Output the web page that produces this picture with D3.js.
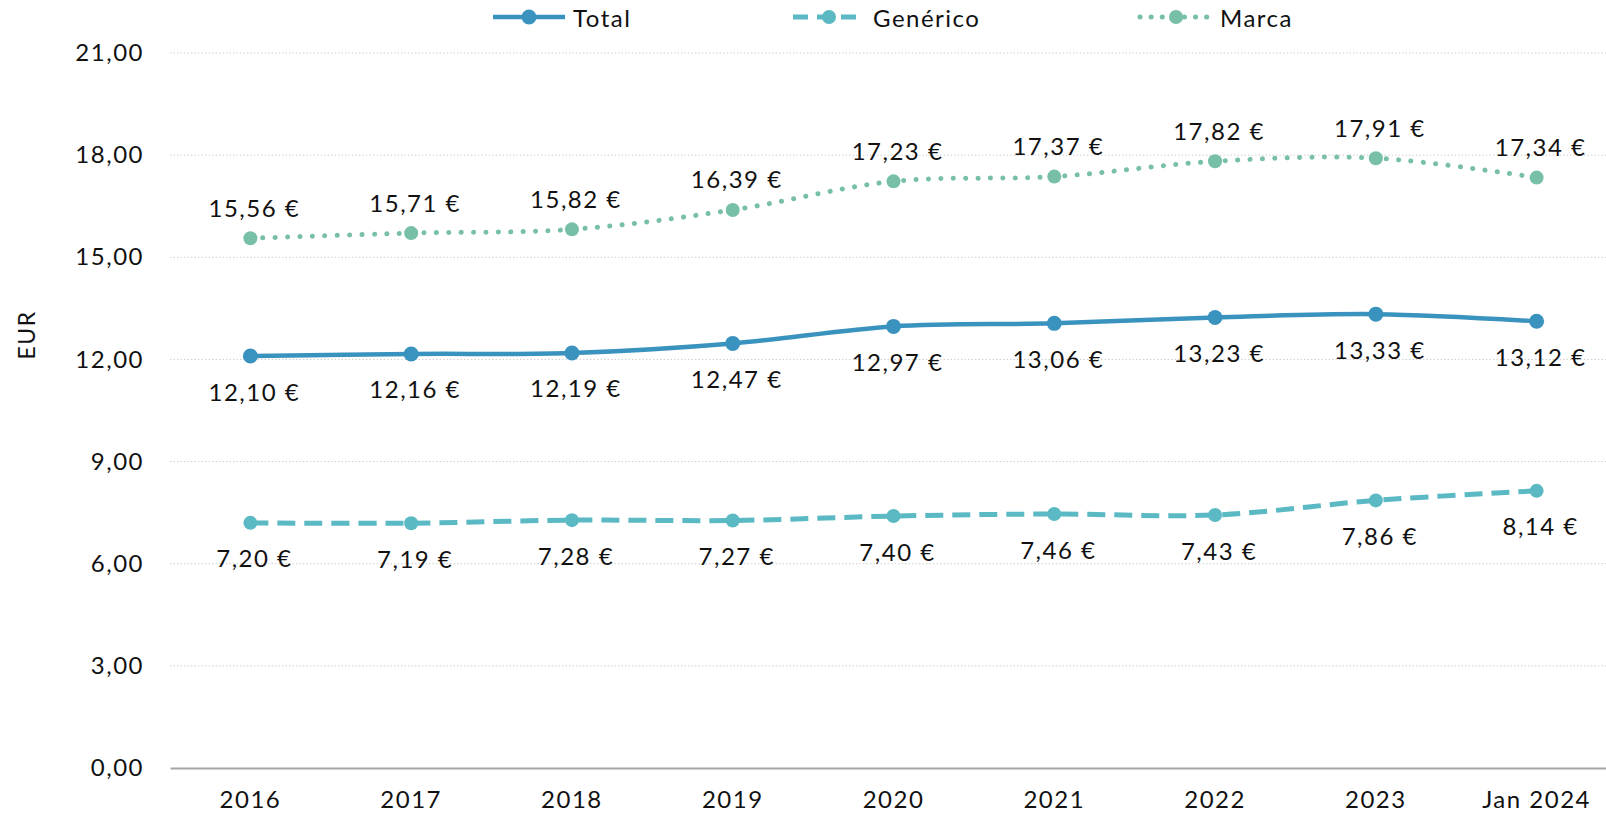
<!DOCTYPE html>
<html><head><meta charset="utf-8">
<script src="https://cdn.jsdelivr.net/npm/d3@7"></script>
<style>body{margin:0;background:#fff}text{font-family:Lato,"Open Sans",sans-serif;fill:#111;letter-spacing:1.5px}</style>
</head><body>
<svg id="c" width="1606" height="814"></svg>
<script>
const categories = ["2016","2017","2018","2019","2020","2021","2022","2023","Jan 2024"];
const total    = [12.10,12.16,12.19,12.47,12.97,13.06,13.23,13.33,13.12];
const generico = [7.20,7.19,7.28,7.27,7.40,7.46,7.43,7.86,8.14];
const marca    = [15.56,15.71,15.82,16.39,17.23,17.37,17.82,17.91,17.34];
const yTicks   = [0,3,6,9,12,15,18,21];

const svg = d3.select("#c");
const x = d3.scaleBand().domain(categories).range([170, 1617]);
const y = d3.scaleLinear().domain([0,21]).range([768, 53]);
const cx = d => x(d) + x.bandwidth()/2;
const fmt = v => v.toFixed(2).replace(".", ",");
const FS = 24;

// gridlines
svg.append("g").selectAll("line").data(yTicks.filter(t=>t>0)).join("line")
  .attr("x1",170).attr("x2",1606).attr("y1",d=>y(d)).attr("y2",d=>y(d))
  .attr("stroke","#cfcfcf").attr("stroke-width",1).attr("stroke-dasharray","1.5,2");

// y axis
const ya = svg.append("g").attr("transform","translate(150,0)")
  .call(d3.axisLeft(y).tickValues(yTicks).tickSize(0).tickFormat(fmt));
ya.select(".domain").remove();
ya.selectAll("text").attr("font-size",FS).attr("font-family","Lato,sans-serif").attr("fill","#111").attr("x",-6);

// x axis
const xa = svg.append("g").attr("transform","translate(0,768)")
  .call(d3.axisBottom(x).tickSize(0));
xa.select(".domain").attr("stroke","#a6a6a6").attr("stroke-width",2);
xa.selectAll("text").attr("font-size",FS).attr("font-family","Lato,sans-serif").attr("fill","#111")
  .attr("y",0).attr("dy",null).attr("dominant-baseline","central").attr("transform","translate(0,30)");

// y title
svg.append("text").attr("transform","translate(26,335) rotate(-90)")
  .attr("text-anchor","middle").attr("dominant-baseline","central").attr("font-size",23).text("EUR");

const series = [
  {name:"Total", values:total, color:"#3a93be", width:4.5, dash:null, r:7.5, lab:35},
  {name:"Genérico", values:generico, color:"#5bb9c4", width:5, dash:"18,9", r:7, lab:35},
  {name:"Marca", values:marca, color:"#77bfa6", width:5, dash:"0.1,12.3", r:7, lab:-31}
];
const line = d3.line().x((d,i)=>cx(categories[i])).y(d=>y(d)).curve(d3.curveCardinal.tension(0));

series.forEach(s=>{
  svg.append("path").datum(s.values).attr("d",line).attr("fill","none")
    .attr("stroke",s.color).attr("stroke-width",s.width)
    .attr("stroke-linecap", s.name==="Marca" ? "round" : "butt")
    .attr("stroke-dasharray",s.dash);
  svg.append("g").selectAll("circle").data(s.values).join("circle")
    .attr("cx",(d,i)=>cx(categories[i])).attr("cy",d=>y(d)).attr("r",s.r).attr("fill",s.color);
  svg.append("g").selectAll("text").data(s.values).join("text")
    .attr("x",(d,i)=>cx(categories[i])+4).attr("y",d=>y(d)+s.lab)
    .attr("text-anchor","middle").attr("dominant-baseline","central")
    .attr("font-size",FS).text(d=>fmt(d)+" €");
});

// legend
const legX = [493, 793, 1140];
const leg = svg.append("g");
series.forEach((s,i)=>{
  const g = leg.append("g").attr("transform",`translate(${legX[i]},17)`);
  g.append("line").attr("x1",0).attr("x2",72).attr("stroke",s.color).attr("stroke-width",s.width)
    .attr("stroke-dasharray", s.name==="Genérico" ? "15,9" : (s.name==="Marca" ? "0.1,11" : null))
    .attr("stroke-linecap", s.name==="Marca" ? "round" : "butt");
  g.append("circle").attr("cx",36).attr("r",s.r).attr("fill",s.color);
  g.append("text").attr("x",80).attr("dominant-baseline","central").attr("font-size",FS).text(s.name);
});
</script>
</body></html>
